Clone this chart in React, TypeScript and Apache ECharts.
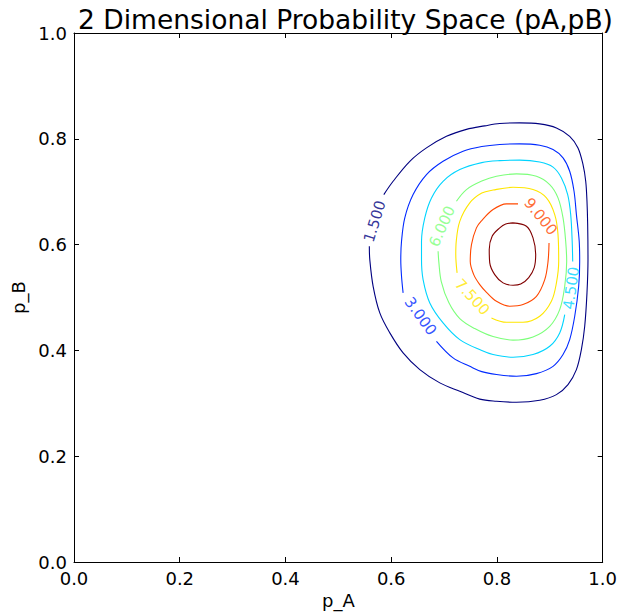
import React, { useEffect, useRef } from "react";
import * as echarts from "echarts";

// contour lines: [p_A, p_B]
const contour15: number[][] = [
  [0.586, 0.6945], [0.6036, 0.7197], [0.6352, 0.7575], [0.6667, 0.7828], [0.7045, 0.8047],
  [0.7423, 0.8178], [0.7769, 0.8245], [0.8053, 0.829], [0.8431, 0.8301], [0.8809, 0.8282],
  [0.9125, 0.8206], [0.9376, 0.8047], [0.9533, 0.7828], [0.9628, 0.7512], [0.9679, 0.7197],
  [0.9703, 0.6819], [0.9716, 0.6378], [0.9722, 0.5716], [0.9703, 0.5087], [0.966, 0.4456],
  [0.9597, 0.4015], [0.9503, 0.3637], [0.9344, 0.3354], [0.9125, 0.3164], [0.8809, 0.3057],
  [0.8369, 0.3019], [0.7991, 0.3038], [0.7675, 0.3079], [0.7297, 0.3227], [0.6919, 0.3386],
  [0.6541, 0.3637], [0.6225, 0.3953], [0.5974, 0.4331], [0.5784, 0.4709], [0.5658, 0.5212],
  [0.5595, 0.5716], [0.5586, 0.5968],
];
const contour30: number[][] = [
  [0.6225, 0.5087], [0.6195, 0.5401], [0.6181, 0.5716], [0.6195, 0.6062], [0.6257, 0.6505],
  [0.6414, 0.6945], [0.6667, 0.7323], [0.6981, 0.7575], [0.7359, 0.7764], [0.7713, 0.7853],
  [0.8053, 0.7893], [0.8431, 0.7904], [0.8809, 0.7877], [0.9061, 0.7796], [0.925, 0.7639],
  [0.9376, 0.7386], [0.9458, 0.7008], [0.9503, 0.6567], [0.9556, 0.6062], [0.9565, 0.5679],
  [0.9546, 0.5212], [0.9471, 0.4645], [0.9376, 0.4204], [0.925, 0.3921], [0.9061, 0.3699],
  [0.8747, 0.3561], [0.8369, 0.351], [0.7991, 0.3543], [0.7713, 0.3599], [0.7486, 0.3699],
  [0.717, 0.3858], [0.6856, 0.4172],
];
const contour45: number[][] = [
  [0.9282, 0.4677], [0.9187, 0.4331], [0.8998, 0.4078], [0.8682, 0.3921], [0.8304, 0.387],
  [0.7926, 0.3921], [0.7713, 0.3996], [0.7297, 0.4204], [0.6981, 0.452], [0.673, 0.4898],
  [0.6603, 0.5338], [0.6573, 0.5716], [0.6573, 0.6062], [0.6635, 0.6505], [0.6762, 0.6883],
  [0.6981, 0.7197], [0.7297, 0.7418], [0.7713, 0.755], [0.8053, 0.7588], [0.8431, 0.7597],
  [0.8809, 0.756], [0.9061, 0.7465], [0.922, 0.7261], [0.9338, 0.6945], [0.9395, 0.6567],
  [0.9423, 0.6062], [0.9433, 0.5679],
];
const contour60: number[][] = [
  [0.7234, 0.6819], [0.7423, 0.704], [0.7713, 0.72], [0.7991, 0.7291], [0.8369, 0.7337],
  [0.8747, 0.7291], [0.8998, 0.7134], [0.9155, 0.6883], [0.925, 0.6505], [0.93, 0.6062],
  [0.9319, 0.5679], [0.9282, 0.5212], [0.9187, 0.4771], [0.8998, 0.4456], [0.8682, 0.4255],
  [0.8304, 0.4195], [0.7926, 0.4261], [0.758, 0.4412], [0.7297, 0.4601], [0.7089, 0.4904],
  [0.6947, 0.5301], [0.69, 0.5679], [0.6887, 0.5873],
];
const contour75: number[][] = [
  [0.7246, 0.5465], [0.7221, 0.5811], [0.723, 0.6062], [0.7297, 0.644], [0.7486, 0.6788],
  [0.7713, 0.6974], [0.7926, 0.7031], [0.8304, 0.7083], [0.8682, 0.704], [0.8936, 0.6883],
  [0.9093, 0.6567], [0.9155, 0.6189], [0.9168, 0.5679], [0.9125, 0.5276], [0.903, 0.4928],
  [0.8809, 0.4645], [0.8493, 0.4531], [0.818, 0.4531], [0.7896, 0.4614],
];
const contour90: number[][] = [
  [0.8399, 0.6769], [0.818, 0.6769], [0.7926, 0.6662], [0.7713, 0.6454], [0.7612, 0.6316],
  [0.7518, 0.6], [0.7495, 0.5679], [0.7561, 0.5433], [0.7675, 0.5244], [0.7807, 0.5093],
  [0.7991, 0.4928], [0.8242, 0.4834], [0.8493, 0.4866], [0.8747, 0.5023], [0.8904, 0.5338],
  [0.8966, 0.5679], [0.8985, 0.6032],
];
const contour105: number[][] = [
  [0.8304, 0.641], [0.8558, 0.6346], [0.8682, 0.6127], [0.8733, 0.5811], [0.8705, 0.5565],
  [0.8601, 0.5376], [0.845, 0.5253], [0.8304, 0.5231], [0.8115, 0.5276], [0.7958, 0.5433],
  [0.7864, 0.5654], [0.7854, 0.5906], [0.7911, 0.6161], [0.8053, 0.6316], [0.8166, 0.6388],
  [0.8304, 0.641],
];

const levels = [1.5, 3.0, 4.5, 6.0, 7.5, 9.0, 10.5];
const contours = [contour15, contour30, contour45, contour60, contour75, contour90, contour105];
// jet colormap at the level positions
const levelColors = ["#000080", "#002aff", "#00d4ff", "#7cff7a", "#ffe600", "#ff4800", "#800000"];

// inline contour labels: [p_A, p_B, angle]
const labelSpots: number[][] = [
  [0.569, 0.644, 73],
  [0.6553, 0.4645, -54],
  [0.9405, 0.518, 82],
  [0.6963, 0.6346, 66],
  [0.7533, 0.5008, -47],
  [0.8828, 0.6529, -51],
];

const titleText = "2 Dimensional Probability Space (pA,pB)";
const FONT = "DejaVu Sans";

export default function App() {
  const ref = useRef<HTMLDivElement>(null);
  useEffect(() => {
    if (!ref.current) return;
    const chart = echarts.init(ref.current, null, { renderer: "svg" });
    const gridL = 74, gridT = 33, gridW = 529, gridH = 529;
    const axisCommon = {
      type: "value" as const,
      min: 0,
      max: 1,
      interval: 0.2,
      splitLine: { show: false },
      axisLine: { show: true, onZero: false, lineStyle: { color: "#000", width: 1 } },
      axisTick: { show: true, inside: true, length: 5, lineStyle: { color: "#000" } },
    };
    const lineSeries = contours.map((c, i) => ({
      type: "line",
      data: c,
      showSymbol: false,
      smooth: 0.35,
      silent: true,
      lineStyle: { color: levelColors[i], width: 1.1 },
      z: 3,
    }));
    const labelSeries = labelSpots.map((s, i) => ({
      type: "scatter",
      data: [[s[0], s[1]]],
      symbolSize: 0,
      silent: true,
      label: {
        show: true,
        position: "inside",
        formatter: levels[i].toFixed(3),
        rotate: s[2],
        color: levelColors[i],
        fontFamily: FONT,
        fontSize: 15,
      },
      z: 4,
    }));
    chart.setOption({
      animation: false,
      backgroundColor: "#fff",
      title: {
        text: titleText,
        left: gridL + gridW / 2 + 2,
        top: 1,
        textAlign: "center",
        textStyle: { fontFamily: FONT, fontSize: 26.5, fontWeight: "normal", color: "#000" },
      },
      grid: { left: gridL, top: gridT, width: gridW, height: gridH },
      xAxis: [
        {
          ...axisCommon,
          position: "bottom",
          name: "p_A",
          nameLocation: "middle",
          nameGap: 28,
          nameTextStyle: { fontFamily: FONT, fontSize: 18, color: "#000" },
          axisLabel: {
            margin: 7,
            fontFamily: FONT,
            fontSize: 18,
            color: "#000",
            formatter: (v: number) => v.toFixed(1),
          },
        },
        { ...axisCommon, position: "top", axisLabel: { show: false } },
      ],
      yAxis: [
        {
          ...axisCommon,
          position: "left",
          name: "p_B",
          nameLocation: "middle",
          nameGap: 42,
          nameTextStyle: { fontFamily: FONT, fontSize: 18, color: "#000" },
          axisLabel: {
            margin: 7,
            fontFamily: FONT,
            fontSize: 18,
            color: "#000",
            formatter: (v: number) => v.toFixed(1),
          },
        },
        { ...axisCommon, position: "right", axisLabel: { show: false } },
      ],
      series: [...lineSeries, ...labelSeries],
    });
    return () => chart.dispose();
  }, []);
  return (
    <div
      ref={ref}
      style={{ position: "fixed", left: 0, top: 0, width: 620, height: 615, background: "#fff" }}
    />
  );
}
